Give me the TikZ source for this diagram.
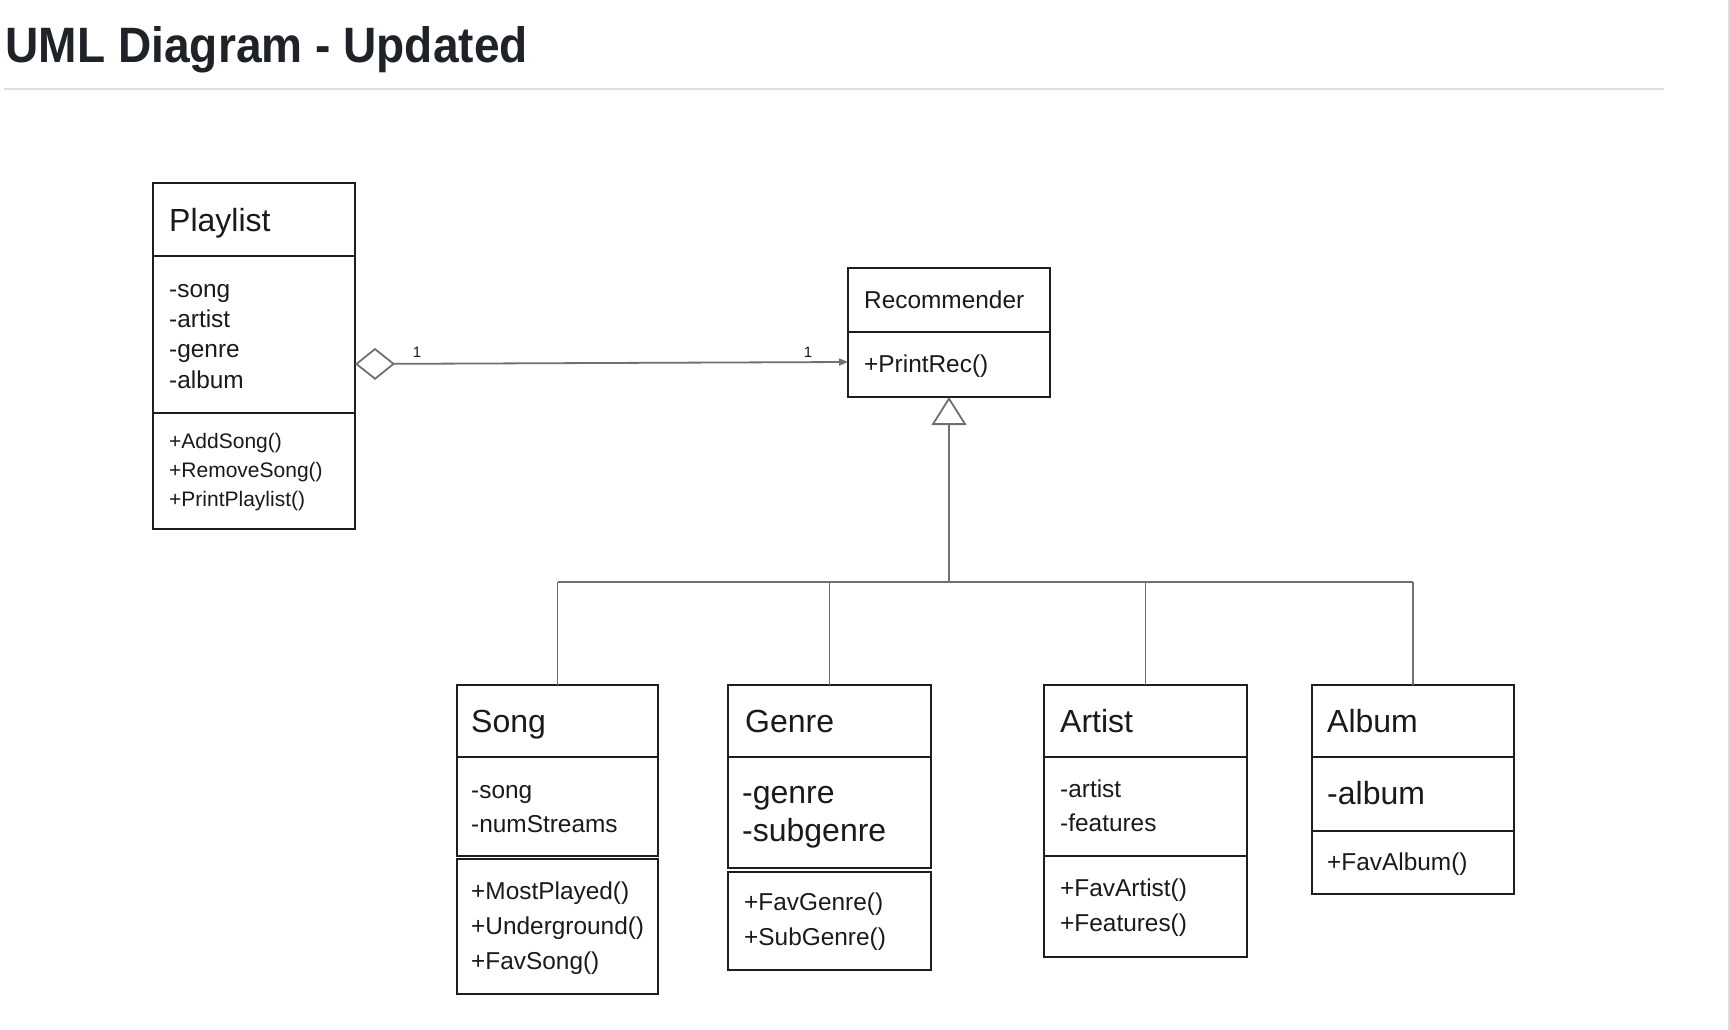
\documentclass[tikz,border=0pt]{standalone}
\usepackage{fontspec}
\setmainfont{Liberation Sans}
\usetikzlibrary{arrows.meta}
\definecolor{titlec}{HTML}{1F2328}
\definecolor{rulec}{HTML}{D8DEE4}
\definecolor{linec}{HTML}{707070}
\definecolor{boxc}{HTML}{1E1E1E}
\definecolor{txtc}{HTML}{1A1A1A}
\begin{document}
\begin{tikzpicture}[x=1pt,y=-1pt,
  comp/.style={draw=boxc, line width=1.8pt, anchor=north west, inner sep=0pt, outer sep=0pt},
  conn/.style={draw=linec, line width=1.8pt},
  big/.style={anchor=base west, inner sep=0pt, text=txtc, font=\fontsize{32}{38}\selectfont},
  mid/.style={anchor=base west, inner sep=0pt, text=txtc, font=\fontsize{24.4}{30}\selectfont},
  sml/.style={anchor=base west, inner sep=0pt, text=txtc, font=\fontsize{21}{25}\selectfont},
  lbl/.style={inner sep=0pt, text=txtc, font=\fontsize{15}{18}\selectfont}]
\useasboundingbox (0,0) rectangle (1730,1030);
\fill[white] (0,0) rectangle (1730,1030);
% page chrome
\node[anchor=base west, inner sep=0pt, text=titlec] (title) at (5.5,62.3)
  {\scalebox{0.927}[1]{\bfseries\fontsize{49.7}{56}\selectfont UML Diagram - Updated}};
\draw[rulec, line width=2pt] (4,89) -- (1664,89);
\fill[rulec] (1728,0) rectangle (1730,1030);

% Playlist
\node[comp, minimum width=202pt, minimum height=73pt] (plT) at (153,183) {};
\node[comp, minimum width=202pt, minimum height=157pt] (plA) at (153,256) {};
\node[comp, minimum width=202pt, minimum height=116pt] (plM) at (153,413) {};
\node[big] (plTt) at (169,231) {Playlist};
\node[mid] (plA1) at (169,297) {-song};
\node[mid] (plA2) at (169,327) {-artist};
\node[mid] (plA3) at (169,357) {-genre};
\node[mid] (plA4) at (169,388) {-album};
\node[sml] (plM1) at (169,448) {+AddSong()};
\node[sml] (plM2) at (169,477) {+RemoveSong()};
\node[sml] (plM3) at (169,506) {+PrintPlaylist()};

% Recommender
\node[comp, minimum width=202pt, minimum height=64pt] (reT) at (848,268) {};
\node[comp, minimum width=202pt, minimum height=65pt] (reM) at (848,332) {};
\node[mid] (reTt) at (864,308) {Recommender};
\node[mid] (reM1) at (864,372) {+PrintRec()};

% Song
\node[comp, minimum width=201pt, minimum height=72pt] (soT) at (457,685) {};
\node[comp, minimum width=201pt, minimum height=99pt] (soA) at (457,757) {};
\node[comp, minimum width=201pt, minimum height=135pt] (soM) at (457,859) {};
\node[big] (soTt) at (471,732) {Song};
\node[mid] (soA1) at (471,798) {-song};
\node[mid] (soA2) at (471,832) {-numStreams};
\node[mid] (soM1) at (471,899) {+MostPlayed()};
\node[mid] (soM2) at (471,934) {+Underground()};
\node[mid] (soM3) at (471,969) {+FavSong()};

% Genre
\node[comp, minimum width=203pt, minimum height=72pt] (geT) at (728,685) {};
\node[comp, minimum width=203pt, minimum height=111pt] (geA) at (728,757) {};
\node[comp, minimum width=203pt, minimum height=98pt] (geM) at (728,872) {};
\node[big] (geTt) at (745,732) {Genre};
\node[big] (geA1) at (742,803) {-genre};
\node[big] (geA2) at (742,841) {-subgenre};
\node[mid] (geM1) at (744,910) {+FavGenre()};
\node[mid] (geM2) at (744,945) {+SubGenre()};

% Artist
\node[comp, minimum width=203pt, minimum height=72pt] (arT) at (1044,685) {};
\node[comp, minimum width=203pt, minimum height=99pt] (arA) at (1044,757) {};
\node[comp, minimum width=203pt, minimum height=101pt] (arM) at (1044,856) {};
\node[big] (arTt) at (1060,732) {Artist};
\node[mid] (arA1) at (1060,797) {-artist};
\node[mid] (arA2) at (1060,831) {-features};
\node[mid] (arM1) at (1060,896) {+FavArtist()};
\node[mid] (arM2) at (1060,931) {+Features()};

% Album
\node[comp, minimum width=202pt, minimum height=72pt] (alT) at (1312,685) {};
\node[comp, minimum width=202pt, minimum height=74pt] (alA) at (1312,757) {};
\node[comp, minimum width=202pt, minimum height=63pt] (alM) at (1312,831) {};
\node[big] (alTt) at (1327,732) {Album};
\node[big] (alA1) at (1327,804) {-album};
\node[mid] (alM1) at (1327,870) {+FavAlbum()};

% aggregation Playlist -> Recommender
\draw[conn, {Diamond[open, fill=white, length=40pt, width=32pt]}-{Triangle[length=9pt, width=7pt]}]
  ([yshift=-29.5pt]plA.east) -- ([yshift=2.5pt]reM.west);
\node[lbl] (m1) at (417,352) {1};
\node[lbl] (m2) at (808,352) {1};

% generalization
\coordinate (bus) at (949,582);
\draw[conn] (soT.north |- bus) -- (alT.north |- bus);
\draw[conn] (soT.north |- bus) -- (soT.north);
\draw[conn] (geT.north |- bus) -- (geT.north);
\draw[conn] (arT.north |- bus) -- (arT.north);
\draw[conn] (alT.north |- bus) -- (alT.north);
\draw[conn, -{Triangle[open, fill=white, length=28pt, width=35pt]}] (bus) -- (reM.south);
\end{tikzpicture}
\end{document}
